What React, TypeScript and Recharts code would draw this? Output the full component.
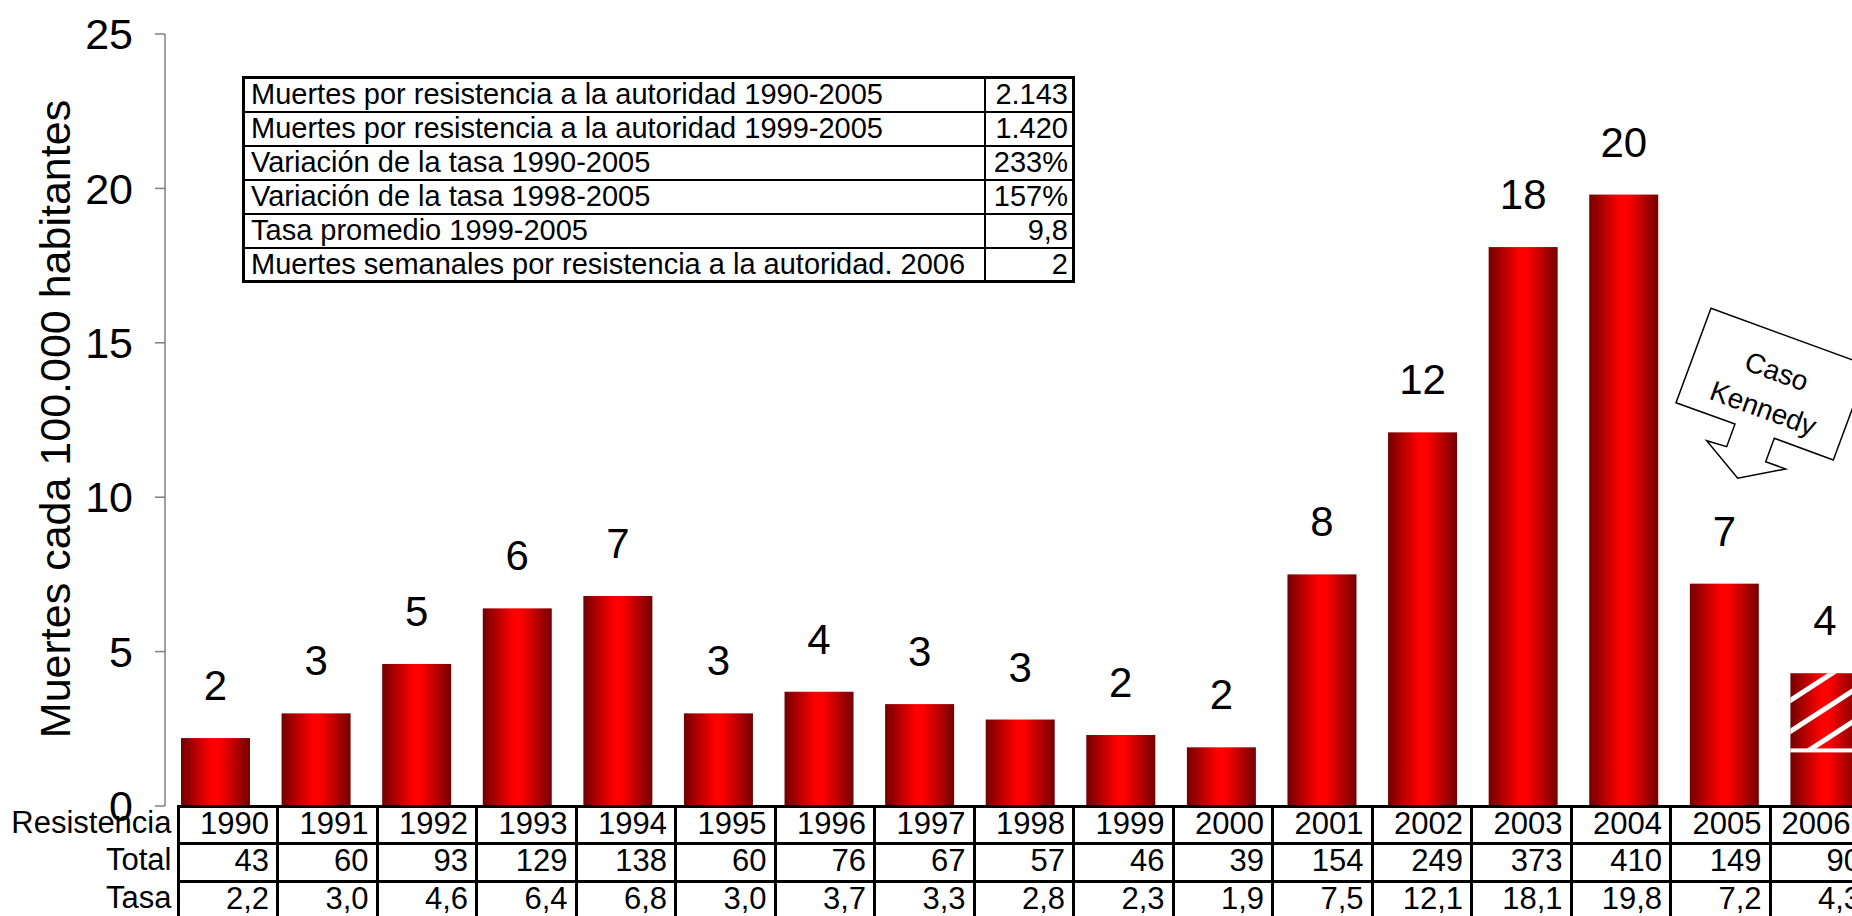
import { BarChart, Bar, XAxis, YAxis, LabelList } from 'recharts'

const years = ['1990', '1991', '1992', '1993', '1994', '1995', '1996', '1997', '1998', '1999', '2000', '2001', '2002', '2003', '2004', '2005', '2006']
const totals = [43, 60, 93, 129, 138, 60, 76, 67, 57, 46, 39, 154, 249, 373, 410, 149, 90]
const tasas = [2.2, 3.0, 4.6, 6.4, 6.8, 3.0, 3.7, 3.3, 2.8, 2.3, 1.9, 7.5, 12.1, 18.1, 19.8, 7.2, 4.3]
// 2006 is a partial year: the top of that bar is hatched from this value up
const hatchFrom: (number | null)[] = [null, null, null, null, null, null, null, null, null, null, null, null, null, null, null, null, 1.8]
const yTicks = [0, 5, 10, 15, 20, 25]

const statLabels = [
  'Muertes por resistencia a la autoridad 1990-2005',
  'Muertes por resistencia a la autoridad 1999-2005',
  'Variación de la tasa 1990-2005',
  'Variación de la tasa 1998-2005',
  'Tasa promedio 1999-2005',
  'Muertes semanales por resistencia a la autoridad. 2006',
]
const statValues = ['2.143', '1.420', '233%', '157%', '9,8', '2']

const FONT = 'Arial, "Liberation Sans", sans-serif'
const W = 1852
const H = 916
const COL_W = 99.5

const data = years.map((year, i) => ({ year, tasa: tasas[i], total: totals[i], hatch: hatchFrom[i] }))

const fmt = (v: number) => v.toFixed(1).replace('.', ',')

function BarShape(props: any) {
  const { x, y, width, height, payload } = props
  let hatch = null
  if (payload.hatch != null && height > 0) {
    const yb = y + height * (1 - payload.hatch / payload.tasa)
    hatch = (
      <g>
        <rect x={x} y={y} width={width} height={yb - y} fill="url(#rayas)" />
        <rect x={x} y={yb - 2} width={width} height={4} fill="#fff" />
      </g>
    )
  }
  return (
    <g>
      <rect x={x} y={y} width={width} height={height} fill="url(#rojo)" />
      {hatch}
    </g>
  )
}

function ValueLabel(p: any) {
  return (
    <text x={p.x + p.width / 2} y={p.y - 38} textAnchor="middle" fontSize={42} fontFamily={FONT} fill="#000">
      {Math.round(p.value)}
    </text>
  )
}

function Callout() {
  const pts = [
    [1676, 402.7], [1711, 308.3], [1868.3, 365.7], [1833.3, 460], [1774.3, 438.3], [1765.7, 461.7],
    [1785.7, 469], [1737.7, 478.3], [1706.7, 440.7], [1726.7, 446.7], [1735, 424],
  ]
  return (
    <svg width={W} height={H} style={{ position: 'absolute', left: 0, top: 0, pointerEvents: 'none' }}>
      <polygon points={pts.map((p) => p.join(',')).join(' ')} fill="#fff" stroke="#000" strokeWidth={1.5} />
      <g fontFamily={FONT} fontSize={28} textAnchor="middle" fill="#000">
        <text x={1776.7} y={381} transform="rotate(20 1776.7 371.7)">Caso</text>
        <text x={1763.3} y={418} transform="rotate(20 1763.3 408.3)">Kennedy</text>
      </g>
    </svg>
  )
}

function StatsTable() {
  return (
    <table
      style={{
        position: 'absolute', left: 242, top: 76, width: 830, borderCollapse: 'collapse',
        border: '3px solid #000', fontFamily: FONT, fontSize: 29, background: '#fff', tableLayout: 'fixed',
      }}
    >
      <colgroup>
        <col style={{ width: 741 }} />
        <col style={{ width: 89 }} />
      </colgroup>
      <tbody>
        {statLabels.map((l, i) => (
          <tr key={i} style={{ height: 34 }}>
            <td style={{ border: '2px solid #000', padding: '0 6px', lineHeight: 1, whiteSpace: 'nowrap' }}>{l}</td>
            <td style={{ border: '2px solid #000', padding: '0 4px', lineHeight: 1, textAlign: 'right' }}>{statValues[i]}</td>
          </tr>
        ))}
      </tbody>
    </table>
  )
}

function DataTable() {
  const rows = [
    { label: 'Resistencia', cells: years, h: 37 },
    { label: 'Total', cells: totals.map(String), h: 38 },
    { label: 'Tasa', cells: tasas.map(fmt), h: 38 },
  ]
  const base = { lineHeight: 1, verticalAlign: 'top' as const, whiteSpace: 'nowrap' as const }
  const cell = { ...base, border: '3px solid #000', padding: '0 7px 0 0', textAlign: 'right' as const, background: '#fff' }
  const last = years.length - 1
  return (
    <table
      style={{
        position: 'absolute', left: 0, top: 805, borderCollapse: 'collapse', tableLayout: 'fixed',
        width: 178 + years.length * COL_W, fontFamily: FONT, fontSize: 31,
      }}
    >
      <colgroup>
        <col style={{ width: 178 }} />
        {years.map((y) => <col key={y} style={{ width: COL_W }} />)}
      </colgroup>
      <tbody>
        {rows.map((r, ri) => (
          <tr key={r.label} style={{ height: r.h }}>
            <td style={{ ...base, padding: '0 5px 0 0', textAlign: 'right' }}>{r.label}</td>
            {r.cells.map((c, i) => (
              <td key={i} style={ri === 0 && i === last ? { ...cell, textAlign: 'left', padding: '0 0 0 10px' } : cell}>
                {c}
              </td>
            ))}
          </tr>
        ))}
      </tbody>
    </table>
  )
}

export default function App() {
  return (
    <div style={{ position: 'relative', width: W, height: H, overflow: 'hidden', background: '#fff' }}>
      <style>{'body{margin:0}'}</style>
      <BarChart width={1880} height={H} data={data} margin={{ top: 34, right: 5, bottom: 110, left: 0 }}>
        <defs>
          <linearGradient id="rojo" x1="0" y1="0" x2="1" y2="0">
            <stop offset="0%" stopColor="#740000" />
            <stop offset="45%" stopColor="#ff0000" />
            <stop offset="55%" stopColor="#ff0000" />
            <stop offset="100%" stopColor="#740000" />
          </linearGradient>
          <pattern id="rayas" patternUnits="userSpaceOnUse" width={20} height={26} patternTransform="rotate(-33)">
            <rect x={0} y={0} width={20} height={5} fill="#fff" />
          </pattern>
        </defs>
        <XAxis dataKey="year" hide />
        <YAxis
          width={165}
          domain={[0, 25]}
          ticks={yTicks}
          interval={0}
          axisLine={{ stroke: '#808080', strokeWidth: 1.5 }}
          tickLine={{ stroke: '#808080', strokeWidth: 1.5 }}
          tickSize={10}
          tickMargin={22}
          tick={{ fontSize: 43, fill: '#000', fontFamily: FONT }}
          label={{
            content: () => (
              <text x={70} y={419} transform="rotate(-90 70 419)" textAnchor="middle" fontSize={43} fontFamily={FONT} fill="#000">
                Muertes cada 100.000 habitantes
              </text>
            ),
          }}
        />
        <Bar dataKey="tasa" barSize={69} shape={<BarShape />} isAnimationActive={false}>
          <LabelList dataKey="tasa" content={<ValueLabel />} />
        </Bar>
      </BarChart>
      <StatsTable />
      <Callout />
      <DataTable />
    </div>
  )
}
